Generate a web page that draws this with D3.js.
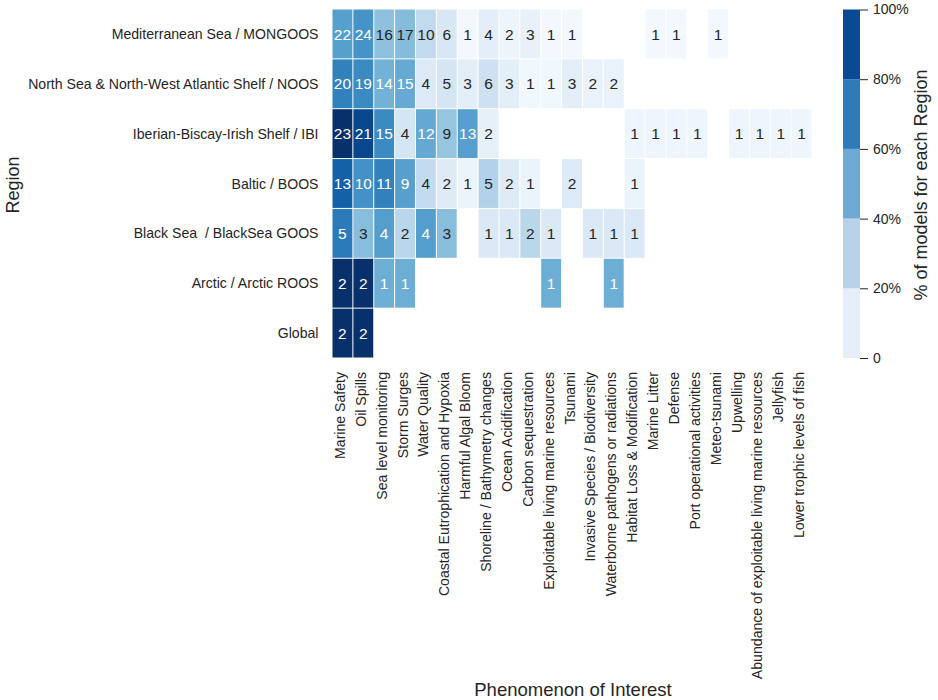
<!DOCTYPE html>
<html>
<head>
<meta charset="utf-8">
<script src="https://cdn.jsdelivr.net/npm/d3@7"></script>
<style>
  body { margin: 0; background: #fff; }
  text { font-family: "Liberation Sans", Arial, sans-serif; fill: #262626; white-space: pre; }
  .tick line { stroke: #262626; }
</style>
</head>
<body>
<div id="chart"></div>
<script>
// Data
var regions = [
  'Mediterranean Sea / MONGOOS',
  'North Sea & North-West Atlantic Shelf / NOOS',
  'Iberian-Biscay-Irish Shelf / IBI',
  'Baltic / BOOS',
  'Black Sea  / BlackSea GOOS',
  'Arctic / Arctic ROOS',
  'Global'
];

var phenomena = [
  'Marine Safety', 'Oil Spills', 'Sea level monitoring', 'Storm Surges', 'Water Quality',
  'Coastal Eutrophication and Hypoxia', 'Harmful Algal Bloom', 'Shoreline / Bathymetry changes',
  'Ocean Acidification', 'Carbon sequestration', 'Exploitable living marine resources', 'Tsunami',
  'Invasive Species / Biodiversity', 'Waterborne pathogens or radiations', 'Habitat Loss & Modification',
  'Marine Litter', 'Defense', 'Port operational activities', 'Meteo-tsunami', 'Upwelling',
  'Abundance of exploitable living marine resources', 'Jellyfish', 'Lower trophic levels of fish'
];

var _ = null;
var counts = [
  [22, 24, 16, 17, 10, 6, 1, 4, 2, 3, 1, 1, _, _, _, 1, 1, _, 1, _, _, _, _],
  [20, 19, 14, 15, 4, 5, 3, 6, 3, 1, 1, 3, 2, 2, _, _, _, _, _, _, _, _, _],
  [23, 21, 15, 4, 12, 9, 13, 2, _, _, _, _, _, _, 1, 1, 1, 1, _, 1, 1, 1, 1],
  [13, 10, 11, 9, 4, 2, 1, 5, 2, 1, _, 2, _, _, 1, _, _, _, _, _, _, _, _],
  [5, 3, 4, 2, 4, 3, _, 1, 1, 2, 1, _, 1, 1, 1, _, _, _, _, _, _, _, _],
  [2, 2, 1, 1, _, _, _, _, _, _, 1, _, _, 1, _, _, _, _, _, _, _, _, _],
  [2, 2, _, _, _, _, _, _, _, _, _, _, _, _, _, _, _, _, _, _, _, _, _]
];

// models per region, estimated from the cell shades
var modelsPerRegion = [39, 29, 23, 16, 7, 2, 2];

var legendTicks = [0, 20, 40, 60, 80, 100];
var legendColors = ['#e6eff9', '#b8d3e9', '#6faad5', '#2e7bba', '#0a4a94'];

var svgWidth = 938;
var svgHeight = 700;

var svg = d3.select('#chart')
  .append('svg')
  .attr('width', svgWidth)
  .attr('height', svgHeight)
  .style('display', 'block');

// Scales
var xScale = d3.scaleBand().domain(phenomena).range([332, 812]);
var yScale = d3.scaleBand().domain(regions).range([9, 358]);
var colorScale = d3.scaleSequential(d3.interpolateBlues).domain([0, 1]);

// Cells
var cells = [];
counts.forEach(function(row, r) {
  row.forEach(function(value, c) {
    if (value !== null) {
      cells.push({ region: regions[r], phenomenon: phenomena[c], value: value, share: value / modelsPerRegion[r] });
    }
  });
});

svg.append('g')
  .selectAll('rect')
  .data(cells)
  .enter()
  .append('rect')
  .attr('x', d => xScale(d.phenomenon) + 0.5)
  .attr('y', d => yScale(d.region) + 0.5)
  .attr('width', xScale.bandwidth() - 1)
  .attr('height', yScale.bandwidth() - 1)
  .attr('fill', d => colorScale(d.share));

svg.append('g')
  .selectAll('text')
  .data(cells)
  .enter()
  .append('text')
  .attr('x', d => xScale(d.phenomenon) + xScale.bandwidth() / 2)
  .attr('y', d => yScale(d.region) + yScale.bandwidth() / 2)
  .attr('dy', '0.36em')
  .attr('text-anchor', 'middle')
  .style('font-size', '15.5px')
  .style('fill', d => d.share > 0.46 ? '#ffffff' : '#262626')
  .text(d => d.value);

// Axes
var leftAxis = svg.append('g')
  .attr('transform', 'translate(331.5, 0.5)')
  .call(d3.axisLeft(yScale).tickSize(0).tickPadding(13));
leftAxis.select('.domain').remove();
leftAxis.selectAll('text').style('font-size', '14.1px');

var bottomAxis = svg.append('g')
  .attr('transform', 'translate(-2.5, 358)')
  .call(d3.axisBottom(xScale).tickSize(0));
bottomAxis.select('.domain').remove();
bottomAxis.selectAll('text')
  .style('font-size', '14.1px')
  .attr('text-anchor', 'end')
  .attr('dy', '0.36em')
  .attr('y', 0)
  .attr('transform', 'translate(0, 14) rotate(-90)');

// Axis titles
svg.append('text')
  .attr('transform', 'translate(19, 185) rotate(-90)')
  .attr('text-anchor', 'middle')
  .style('font-size', '18px')
  .text('Region');

svg.append('text')
  .attr('x', 573)
  .attr('y', 695.5)
  .attr('text-anchor', 'middle')
  .style('font-size', '18.5px')
  .text('Phenomenon of Interest');

// Colour bar
var legendScale = d3.scaleLinear().domain([0, 100]).range([358, 9.5]);

svg.append('g')
  .selectAll('rect')
  .data(legendColors)
  .enter()
  .append('rect')
  .attr('x', 843)
  .attr('y', (d, i) => legendScale(legendTicks[i + 1]))
  .attr('width', 17)
  .attr('height', (d, i) => legendScale(legendTicks[i]) - legendScale(legendTicks[i + 1]))
  .attr('fill', d => d);

var legendAxis = svg.append('g')
  .attr('transform', 'translate(860, 0)')
  .call(d3.axisRight(legendScale)
    .tickValues(legendTicks)
    .tickSize(8)
    .tickPadding(5)
    .tickFormat(d => d === 0 ? '0' : d + '%'));
legendAxis.select('.domain').remove();
legendAxis.selectAll('text').style('font-size', '14px');

svg.append('text')
  .attr('transform', 'translate(926.5, 185) rotate(-90)')
  .attr('text-anchor', 'middle')
  .style('font-size', '18px')
  .text('% of models for each Region');
</script>
</body>
</html>
